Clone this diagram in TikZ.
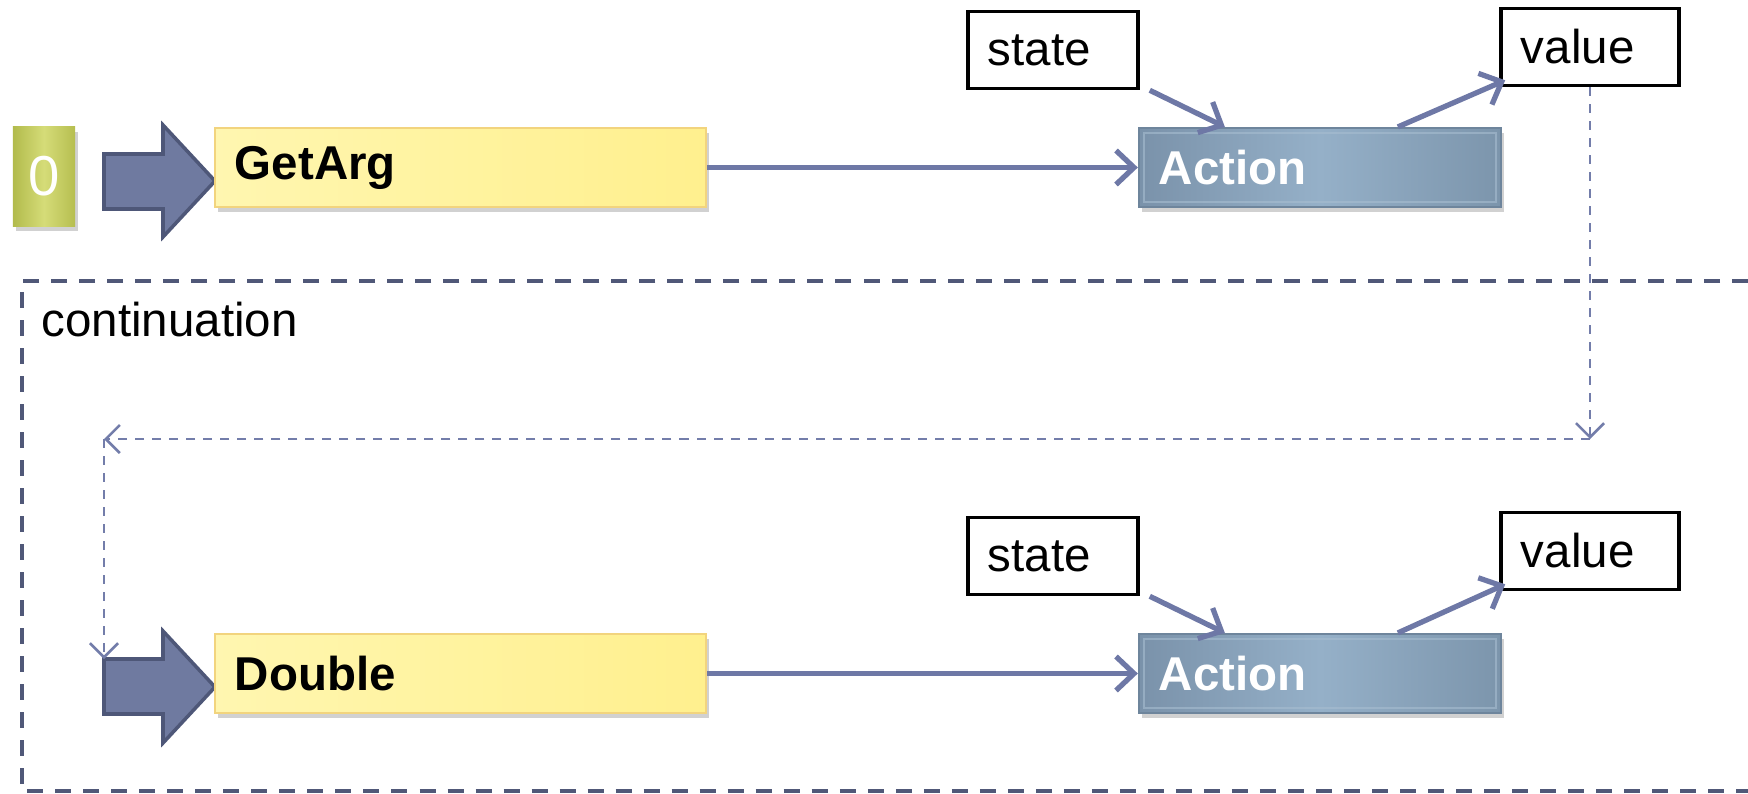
\documentclass[tikz,border=0pt]{standalone}
\usepackage{fontspec}
\setmainfont{Liberation Sans}
\usetikzlibrary{arrows.meta,shadows,calc}
\definecolor{yl}{HTML}{FFF6B0}
\definecolor{yr}{HTML}{FFF08E}
\definecolor{ybord}{HTML}{F2D47E}
\definecolor{al}{HTML}{7A92AA}
\definecolor{am}{HTML}{95B0C8}
\definecolor{ar}{HTML}{7C95AC}
\definecolor{abord}{HTML}{6E859C}
\definecolor{bevel}{HTML}{A7BDD0}
\definecolor{gl}{HTML}{B2BB4C}
\definecolor{gm}{HTML}{D5DC78}
\definecolor{gr}{HTML}{B6BE50}
\definecolor{bafill}{HTML}{6F7AA0}
\definecolor{babord}{HTML}{4E5778}
\definecolor{conncol}{HTML}{6E78A6}
\definecolor{dconncol}{HTML}{737DAA}
\definecolor{framecol}{HTML}{505878}
\tikzset{
  shad/.style={drop shadow={shadow xshift=0.03cm,shadow yshift=-0.05cm,opacity=0.3,fill=black!60}},
  yellowbox/.style={draw=ybord,line width=0.6pt,left color=yl,right color=yr,shad,
    minimum width=4.91cm,minimum height=0.79cm,text width=4.51cm,inner xsep=0.2cm,inner ysep=0pt,
    align=left,font=\fontsize{13.5}{16}\selectfont\bfseries},
  actbox/.style={draw=abord,line width=0.6pt,left color=al,right color=ar,middle color=am,shad,
    minimum width=3.62cm,minimum height=0.79cm,text width=3.22cm,inner xsep=0.2cm,inner ysep=0pt,
    align=left,text=white,font=\fontsize{13.5}{16}\selectfont\bfseries,
    path picture={\draw[bevel,line width=0.7pt,opacity=0.6]
      ([xshift=0.05cm,yshift=-0.05cm]path picture bounding box.north west) rectangle
      ([xshift=-0.05cm,yshift=0.05cm]path picture bounding box.south east);}},
  labelbox/.style={draw=black,line width=1pt,fill=white,minimum height=0.77cm,inner xsep=0.2cm,inner ysep=0pt,
    align=left,font=\fontsize{13.5}{16}\selectfont},
  statebox/.style={labelbox,minimum width=1.70cm,text width=1.30cm},
  valuebox/.style={labelbox,minimum width=1.78cm,text width=1.38cm},
  zerobox/.style={left color=gl,right color=gr,middle color=gm,shad,minimum width=0.62cm,minimum height=0.99cm,
    inner sep=0pt,text=white,font=\fontsize{16}{18}\selectfont},
  blockarrow/.style={fill=bafill,draw=babord,line width=1pt,line join=miter},
  conn/.style={draw=conncol,line width=1.5pt,-{Straight Barb[length=1.8mm,width=3.4mm]}},
  dconn/.style={draw=dconncol,line width=0.75pt,dash pattern=on 0.09cm off 0.08cm,
    -{Straight Barb[length=1.4mm,width=2.8mm]}},
  frame/.style={draw=framecol,line width=1.4pt,dash pattern=on 0.16cm off 0.12cm}
}
\begin{document}
\begin{tikzpicture}[x=0.01cm,y=-0.01cm]
\useasboundingbox (0,0) rectangle (1748,794);

% frame
\draw[frame] (1748,281) -- (22,281) -- (22,791) -- (1748,791);
\node[anchor=west,inner sep=0pt,font=\fontsize{13.5}{16}\selectfont] (cont) at (41,320) {continuation};

% row 1
\node[zerobox] (zero) at (44,176.5) {0};
\draw[blockarrow] (104,154) -- (163,154) -- (163,125) -- (215,181) -- (163,237) -- (163,209) -- (104,209) -- cycle;
\node[yellowbox] (getarg) at (460.5,167.5) {GetArg};
\node[actbox] (act1) at (1320,167.5) {Action};
\node[statebox] (state1) at (1053,50) {state};
\node[valuebox] (val1) at (1590,47) {value};
\draw[conn] (getarg.east) -- (act1.west);
\draw[conn] ($(state1.south east)+(10,0)$) -- ($(act1.north west)+(87,0)$);
\draw[conn] ($(act1.north west)+(260,0)$) -- ($(val1.south west)+(6,-7)$);

% row 2
\coordinate (a2c) at (104,659);
\draw[blockarrow] (a2c) -- (163,659) -- (163,631) -- (215,687) -- (163,743) -- (163,714) -- (104,714) -- cycle;
\node[yellowbox] (double) at (460.5,673.5) {Double};
\node[actbox] (act2) at (1320,673.5) {Action};
\node[statebox] (state2) at (1053,556) {state};
\node[valuebox] (val2) at (1590,551) {value};
\draw[conn] (double.east) -- (act2.west);
\draw[conn] ($(state2.south east)+(10,0)$) -- ($(act2.north west)+(87,0)$);
\draw[conn] ($(act2.north west)+(260,0)$) -- ($(val2.south west)+(6,-7)$);

% continuation connector
\coordinate (c1) at (1590,439);
\coordinate (c2) at (104,439);
\draw[dconn] (val1.south) -- (c1);
\draw[dconn] (c1) -- (c2);
\draw[dconn] (c2) -- (a2c);
\end{tikzpicture}
\end{document}
